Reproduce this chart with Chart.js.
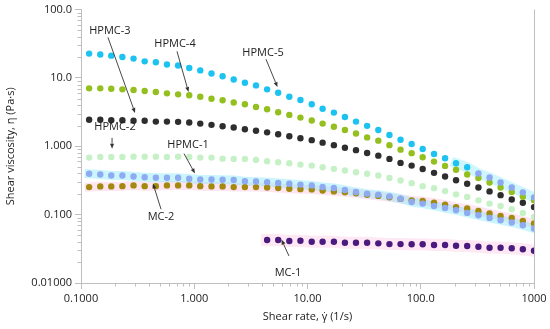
<!DOCTYPE html>
<html>
<head>
<meta charset="utf-8">
<script src="https://cdn.jsdelivr.net/npm/chart.js@4"></script>
<style>
html,body{margin:0;padding:0;background:#fff;}
canvas{display:block;}
</style>
</head>
<body>
<canvas id="c" width="550" height="329"></canvas>
<script>
// ---- data ----
const shearRate = [0.118,0.148,0.185,0.232,0.291,0.365,0.458,0.574,0.720,0.903,1.13,1.42,1.78,2.23,2.80,3.51,4.40,5.51,6.91,8.66,10.9,13.6,17.1,21.4,26.8,33.6,42.2,52.9,66.3,83.1,104,131,164,205,257,323,405,507,636,797,1000];
const hpmc5 = [22.7,22.0,21.2,20.3,19.2,17.5,17.0,15.7,15.2,14.0,12.9,11.6,10.6,9.51,8.49,7.78,6.81,6.07,5.31,4.76,4.12,3.55,3.11,2.69,2.30,1.99,1.73,1.46,1.25,1.08,0.914,0.773,0.667,0.564,0.494,0.400,0.350,0.296,0.250,0.212,0.179];
const hpmc4 = [7.04,7.04,6.94,6.81,6.65,6.43,6.22,5.95,5.76,5.57,5.31,4.97,4.71,4.38,4.12,3.76,3.48,3.15,2.88,2.63,2.38,2.15,1.93,1.73,1.54,1.35,1.21,1.04,0.893,0.794,0.690,0.597,0.517,0.454,0.387,0.344,0.296,0.250,0.214,0.183,0.162];
const hpmc3 = [2.44,2.44,2.41,2.41,2.36,2.36,2.30,2.30,2.28,2.23,2.15,2.06,1.96,1.88,1.78,1.69,1.60,1.50,1.40,1.31,1.23,1.13,1.04,0.954,0.878,0.799,0.730,0.654,0.572,0.522,0.465,0.409,0.362,0.319,0.283,0.250,0.219,0.193,0.167,0.149,0.129];
const hpmc2 = [0.683,0.699,0.699,0.699,0.706,0.706,0.706,0.699,0.706,0.699,0.683,0.683,0.660,0.654,0.654,0.632,0.603,0.583,0.564,0.540,0.522,0.494,0.468,0.442,0.418,0.396,0.374,0.344,0.316,0.289,0.261,0.244,0.221,0.198,0.181,0.162,0.145,0.134,0.120,0.106,0.0926];
const hpmc1 = [0.396,0.387,0.374,0.374,0.362,0.353,0.346,0.346,0.346,0.335,0.327,0.327,0.324,0.322,0.309,0.306,0.299,0.291,0.283,0.275,0.268,0.254,0.246,0.230,0.214,0.203,0.196,0.185,0.171,0.153,0.145,0.134,0.125,0.116,0.106,0.098,0.0896,0.0829,0.0768,0.0701,0.0628];
const mc2 = [0.253,0.259,0.259,0.261,0.268,0.261,0.261,0.268,0.268,0.268,0.261,0.259,0.259,0.253,0.253,0.253,0.250,0.246,0.239,0.236,0.234,0.226,0.219,0.212,0.205,0.195,0.188,0.179,0.170,0.162,0.159,0.150,0.140,0.129,0.123,0.113,0.104,0.0957,0.0896,0.0811,0.0743];
const mc1Start = 16; // MC-1 starts at the 17th shear rate
const mc1 = [0.0425,0.0425,0.0411,0.0415,0.0401,0.0401,0.0401,0.0388,0.0388,0.0388,0.0380,0.0371,0.0371,0.0368,0.0368,0.0359,0.0359,0.0351,0.0347,0.0339,0.0328,0.0328,0.0322,0.0311,0.0297];

const xTickValues = [0.1, 1, 10, 100, 1000];
const xTickLabels = ['0.1000', '1.000', '10.00', '100.0', '1000'];
const yTickValues = [0.01, 0.1, 1, 10, 100];
const yTickLabels = ['0.01000', '0.100', '1.000', '10.0', '100.0'];

const xTitle = 'Shear rate, \u03B3\u0307 (1/s)';
const yTitle = 'Shear viscosity, \u03B7 (Pa\u00B7s)';

// annotation labels with arrows, in data coordinates
const labels = [
  {text:'HPMC-3', x:0.180, y:49.5, from:[0.173,39.2], to:[0.300,3.08]},
  {text:'HPMC-4', x:0.676, y:31.3, from:[0.704,24.5], to:[0.890,6.22]},
  {text:'HPMC-5', x:4.05,  y:22.9, from:[4.30,18.8],  to:[5.43,7.35]},
  {text:'HPMC-2', x:0.1996,y:1.93, from:[0.188,1.33], to:[0.188,0.923]},
  {text:'HPMC-1', x:0.881, y:1.055,from:[0.812,0.781],to:[1.015,0.400]},
  {text:'MC-2',   x:0.509, y:0.0917,from:[0.509,0.120],to:[0.432,0.286]},
  {text:'MC-1',   x:6.73,  y:0.01406,from:[6.86,0.02485],to:[5.89,0.0432]}
];

// ---- build ----
const pts = (ys, off=0) => ys.map((v,i)=>({x:shearRate[i+off], y:v}));
const FONT = '"Open Sans", "Liberation Sans", sans-serif';
const AXIS = '#bfbfbf';

function pointDs(label, data, color, order){
  return {label, data, showLine:false, pointRadius:3.2, pointBorderWidth:0,
          pointBackgroundColor:color, backgroundColor:color, borderColor:color, order};
}
function bandDs(data, color, width){
  return {data, showLine:true, pointRadius:0, borderWidth:width, borderColor:color,
          borderCapStyle:'square', borderJoinStyle:'round', fill:false, order:20};
}

const hpmc5Colors = hpmc5.map((v,i)=> i>=35 ? '#8ea8f2' : '#1cc3f0');

const datasets = [
  pointDs('HPMC-5', pts(hpmc5), hpmc5Colors, 1),
  pointDs('HPMC-4', pts(hpmc4), '#93c01f', 2),
  pointDs('HPMC-3', pts(hpmc3), '#2e2e2e', 3),
  pointDs('HPMC-2', pts(hpmc2), '#c6f1c6', 4),
  pointDs('HPMC-1', pts(hpmc1), '#8eabf2', 5),
  pointDs('MC-2', pts(mc2), '#a4890f', 6),
  pointDs('MC-1', pts(mc1, mc1Start), '#4a1a7e', 7),
  bandDs(pts(hpmc1), 'rgba(130,232,248,0.42)', 9),
  bandDs(pts(mc2), 'rgba(250,180,218,0.34)', 9),
  bandDs(pts(mc1, mc1Start), 'rgba(250,185,222,0.32)', 12),
  bandDs(pts(hpmc5).slice(33), 'rgba(130,232,248,0.38)', 10)
];

function logTicks(min, max, majors){
  const t = [];
  for (let e = Math.round(Math.log10(min)); e < Math.round(Math.log10(max)); e++){
    const base = majors[e - Math.round(Math.log10(min))];
    t.push({value: base, major:true});
    for (let m = 2; m <= 9; m++) t.push({value: m*Math.pow(10,e), major:false});
  }
  t.push({value: majors[majors.length-1], major:true});
  return t;
}

const axisPlugin = {
  id:'axisExtras',
  afterDraw(chart){
    const ctx = chart.ctx, ca = chart.chartArea;
    const xs = chart.scales.x, ys = chart.scales.y;
    ctx.save();
    ctx.strokeStyle = AXIS; ctx.lineWidth = 1;
    // right frame line
    ctx.beginPath(); ctx.moveTo(Math.round(ca.right)+0.5, ca.top); ctx.lineTo(Math.round(ca.right)+0.5, ca.bottom); ctx.stroke();
    // minor ticks
    xs.ticks.forEach(t=>{ if(!t.major){ const p=Math.round(xs.getPixelForValue(t.value))+0.5; ctx.beginPath(); ctx.moveTo(p, ca.bottom); ctx.lineTo(p, ca.bottom+3.5); ctx.stroke(); }});
    ys.ticks.forEach(t=>{ if(!t.major){ const p=Math.round(ys.getPixelForValue(t.value))+0.5; ctx.beginPath(); ctx.moveTo(ca.left, p); ctx.lineTo(ca.left-3.5, p); ctx.stroke(); }});
    // annotations
    ctx.fillStyle = '#222'; ctx.strokeStyle = '#333'; ctx.lineWidth = 0.9;
    ctx.font = '11px ' + FONT; ctx.textAlign = 'center'; ctx.textBaseline = 'middle';
    labels.forEach(l=>{
      ctx.fillText(l.text, xs.getPixelForValue(l.x), ys.getPixelForValue(l.y));
      const x1 = xs.getPixelForValue(l.from[0]), y1 = ys.getPixelForValue(l.from[1]);
      const x2 = xs.getPixelForValue(l.to[0]), y2 = ys.getPixelForValue(l.to[1]);
      const a = Math.atan2(y2-y1, x2-x1), hl = 5, hw = 2;
      const bx = x2 - hl*Math.cos(a), by = y2 - hl*Math.sin(a);
      ctx.beginPath(); ctx.moveTo(x1,y1); ctx.lineTo(bx,by); ctx.stroke();
      ctx.beginPath(); ctx.moveTo(x2,y2);
      ctx.lineTo(bx + hw*Math.sin(a), by - hw*Math.cos(a));
      ctx.lineTo(bx - hw*Math.sin(a), by + hw*Math.cos(a));
      ctx.closePath(); ctx.fillStyle='#333'; ctx.fill(); ctx.fillStyle='#222';
    });
    ctx.restore();
  }
};

new Chart(document.getElementById('c'), {
  type:'scatter',
  data:{datasets},
  options:{
    responsive:false, animation:false, devicePixelRatio:1,
    layout:{padding:{top:8, right:16, bottom:0, left:0}},
    plugins:{legend:{display:false}, tooltip:{enabled:false}},
    scales:{
      x:{
        type:'logarithmic', position:'bottom', min:0.1, max:1000,
        afterBuildTicks:(s)=>{ s.ticks = logTicks(0.1, 1000, xTickValues); },
        afterFit:(s)=>{ s.height = 46; },
        grid:{display:true, drawOnChartArea:false, drawTicks:true, tickLength:6,
              tickColor:(c)=> (c.tick && c.tick.major) ? AXIS : 'rgba(0,0,0,0)', color:AXIS},
        border:{display:true, color:AXIS, width:1},
        ticks:{autoSkip:false, maxRotation:0, padding:3, color:'#222', font:{family:FONT, size:11},
               callback:(v)=>{ const i = xTickValues.indexOf(v); return i>=0 ? xTickLabels[i] : ''; }},
        title:{display:true, text:xTitle, color:'#222', font:{family:FONT, size:11}, padding:{top:0, bottom:6}}
      },
      y:{
        type:'logarithmic', position:'left', min:0.01, max:100,
        afterBuildTicks:(s)=>{ s.ticks = logTicks(0.01, 100, yTickValues); },
        afterFit:(s)=>{ s.width = 81; },
        grid:{display:true, drawOnChartArea:false, drawTicks:true, tickLength:6,
              tickColor:(c)=> (c.tick && c.tick.major) ? AXIS : 'rgba(0,0,0,0)', color:AXIS},
        border:{display:true, color:AXIS, width:1},
        ticks:{autoSkip:false, padding:3, color:'#222', font:{family:FONT, size:11},
               callback:(v)=>{ const i = yTickValues.indexOf(v); return i>=0 ? yTickLabels[i] : ''; }},
        title:{display:true, text:yTitle, color:'#222', font:{family:FONT, size:11}, padding:{top:4, bottom:4}}
      }
    }
  },
  plugins:[axisPlugin]
});
</script>
</body>
</html>
